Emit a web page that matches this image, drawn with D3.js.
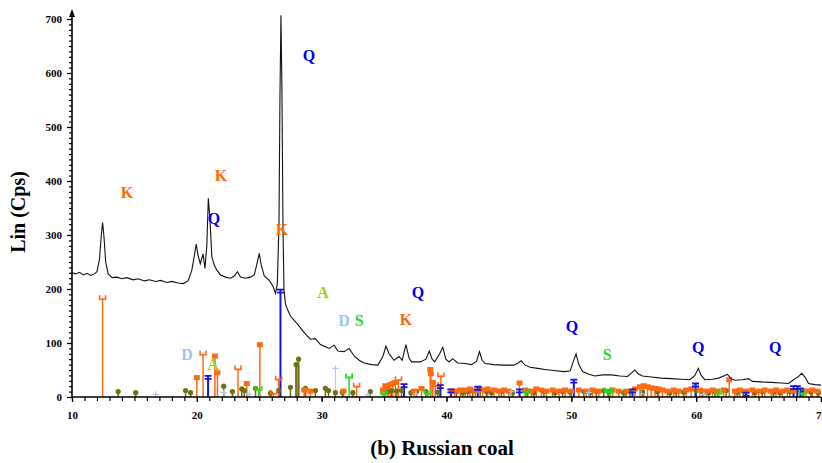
<!DOCTYPE html>
<meta charset="utf-8">
<script src="https://cdn.jsdelivr.net/npm/d3@7"></script>
<style>
  body { margin: 0; background: #fff; }
  text { font-family: "Liberation Serif", "Times New Roman", serif; font-weight: bold; }
</style>
<div id="my_dataviz"></div>
<script>
  // diffraction pattern (2theta, counts)
  var twoTheta = [10.0, 10.3, 10.6, 10.9, 11.2, 11.5, 11.8, 12.0, 12.2, 12.35, 12.45, 12.55, 12.7, 12.9, 13.2, 13.6, 14.0, 14.4, 14.9, 15.3, 15.8, 16.2, 16.7, 17.1, 17.6, 18.0, 18.5, 18.9, 19.3, 19.6, 19.8, 19.95, 20.1, 20.28, 20.5, 20.65, 20.8, 20.92, 21.05, 21.2, 21.4, 21.6, 21.9, 22.3, 22.7, 23.0, 23.25, 23.5, 23.9, 24.3, 24.6, 24.8, 25.0, 25.15, 25.4, 25.8, 26.1, 26.3, 26.45, 26.58, 26.66, 26.74, 26.82, 26.9, 26.98, 27.1, 27.3, 27.5, 27.8, 28.0, 28.3, 28.5, 28.8, 29.1, 29.5, 29.9, 30.3, 30.6, 31.0, 31.3, 31.8, 32.2, 32.6, 33.0, 33.4, 34.0, 34.5, 34.9, 35.15, 35.4, 35.8, 36.2, 36.45, 36.75, 37.0, 37.2, 37.9, 38.35, 38.62, 38.85, 39.05, 39.45, 39.7, 39.95, 40.2, 40.5, 40.9, 41.5, 42.0, 42.4, 42.64, 42.85, 43.1, 43.8, 44.5, 45.4, 45.75, 45.98, 46.3, 46.7, 47.3, 47.9, 48.6, 49.4, 49.9, 50.15, 50.38, 50.6, 50.9, 51.4, 51.9, 52.5, 53.2, 53.9, 54.5, 54.85, 55.08, 55.35, 55.7, 56.4, 57.2, 58.0, 58.8, 59.5, 59.9, 60.17, 60.4, 60.7, 61.3, 61.8, 62.2, 62.5, 62.8, 63.1, 63.7, 64.2, 64.5, 65.2, 66.0, 66.8, 67.4, 67.8, 68.0, 68.15, 68.45, 68.75, 69.0, 69.5, 70.0];
  var counts = [230, 228, 231, 226, 229, 225, 228, 232, 255, 300, 323, 300, 250, 228, 221, 222, 219, 221, 217, 219, 215, 217, 214, 216, 212, 214, 211, 210, 215, 235, 262, 283, 262, 247, 265, 238, 280, 368, 330, 260, 244, 235, 226, 222, 220, 224, 232, 222, 220, 222, 226, 245, 266, 245, 224, 216, 205, 192, 210, 320, 560, 707, 560, 320, 200, 172, 160, 150, 142, 137, 128, 122, 114, 107, 108, 97, 93, 90, 96, 85, 84, 90, 76, 68, 63, 60, 59, 75, 94, 80, 68, 75, 68, 97, 72, 65, 65, 70, 85, 70, 65, 80, 92, 70, 65, 71, 63, 62, 60, 66, 84, 68, 62, 60, 59, 59, 63, 67, 59, 55, 53, 51, 49, 47, 48, 65, 80, 60, 47, 42, 39, 41, 41, 39, 38, 45, 50, 43, 39, 37, 35, 34, 33, 32, 40, 53, 40, 32, 33, 35, 39, 42, 34, 31, 32, 34, 29, 28, 27, 26, 25, 32, 35, 37, 44, 36, 25, 23, 22];

  // reference stick patterns: [2theta, height]
  var kaoliniteCup = [[12.45, 183], [20.5, 80], [23.3, 53], [26.15, 8], [26.55, 34], [32.8, 21], [36.15, 33], [39.55, 40], [39.1, 22]];
  var kaoliniteSq = [[20.0, 35], [21.45, 75], [21.65, 44], [24.0, 24], [25.05, 96], [28.6, 12], [29.1, 10], [31.75, 10], [34.9, 12], [35.1, 20], [35.3, 18], [35.5, 22], [35.7, 24], [35.9, 26], [37.4, 10], [38.0, 15], [38.7, 50], [38.75, 42], [38.9, 26], [40.4, 10], [40.65, 10], [41.1, 12], [41.5, 12], [41.9, 14], [42.3, 10], [42.9, 12], [43.3, 14], [43.8, 12], [44.2, 10], [44.6, 12], [45.0, 10], [45.85, 25], [46.3, 12], [46.8, 10], [47.2, 14], [47.6, 12], [48.0, 10], [48.5, 12], [49.0, 10], [49.5, 12], [50.0, 10], [50.6, 12], [51.2, 10], [51.7, 12], [52.2, 10], [53.3, 12], [53.8, 10], [54.4, 10], [55.1, 14], [55.5, 18], [55.8, 20], [56.1, 18], [56.4, 16], [56.7, 15], [57.0, 14], [57.3, 12], [57.7, 10], [58.2, 12], [58.6, 10], [59.2, 12], [59.6, 14], [60.3, 12], [60.8, 10], [61.3, 12], [61.7, 10], [62.2, 12], [62.65, 31], [63.1, 10], [63.5, 12], [64.0, 10], [64.5, 12], [65.0, 10], [65.5, 12], [66.0, 10], [66.4, 12], [66.9, 10], [67.3, 12], [67.8, 10], [68.8, 10], [69.3, 12], [69.7, 10]];
  var quartz = [[20.9, 39], [26.7, 199], [36.6, 24], [39.5, 22], [40.35, 14], [42.5, 19], [45.85, 14], [50.2, 32], [54.9, 14], [59.95, 25], [64.0, 8], [67.8, 20], [68.1, 20], [68.35, 16]];
  var olive = [[13.7, 10], [15.1, 8], [19.1, 12], [19.5, 8], [22.15, 20], [22.85, 10], [23.6, 15], [23.8, 12], [24.7, 16], [25.9, 7], [26.55, 12], [27.5, 18], [27.95, 60], [28.15, 70], [28.7, 16], [29.5, 12], [30.3, 16], [30.55, 12], [31.1, 8], [31.65, 9], [32.5, 8], [33.9, 10], [35.3, 10], [35.6, 12], [36.0, 11], [36.4, 12], [37.15, 8], [37.6, 10], [38.35, 10], [39.3, 9], [40.8, 10], [41.3, 8], [41.7, 10], [42.1, 12], [42.7, 16], [43.2, 10], [43.6, 8], [44.4, 10], [45.3, 8], [46.5, 10], [47.0, 8], [47.8, 10], [48.7, 8], [49.3, 10], [49.9, 9], [51.0, 10], [51.5, 8], [52.0, 10], [52.6, 12], [53.0, 10], [54.2, 8], [54.7, 10], [55.7, 9], [56.9, 10], [57.9, 8], [58.4, 10], [59.0, 9], [60.0, 12], [60.5, 10], [61.0, 8], [61.5, 10], [62.4, 12], [63.3, 9], [63.8, 10], [64.7, 8], [65.3, 10], [66.2, 9], [66.7, 8], [67.5, 10], [68.6, 12], [69.2, 9], [69.8, 8]];
  var sulfur = [[24.95, 15], [32.2, 38], [35.0, 7], [38.5, 8], [46.4, 10], [52.9, 12], [53.1, 10], [61.8, 8], [68.5, 8]];
  var dolomite = [[16.7, 5], [22.15, 8], [24.2, 5], [31.1, 53], [33.7, 4], [37.55, 6], [45.2, 10], [51.4, 8], [55.6, 6], [60.6, 5]];

  // peak labels: [letter, 2theta, counts]
  var labelsK = [[14.41, 378], [21.94, 411], [26.83, 311], [36.76, 143]];
  var labelsQ = [[21.38, 331], [28.99, 633], [37.72, 194], [50.06, 130], [60.16, 91], [66.33, 91]];
  var labelsA = [[30.11, 194], [21.3, 61]];
  var labelsD = [[19.21, 78], [31.8, 141]];
  var labelsS = [[33.0, 141], [52.87, 78]];

  var xTicks = [10, 20, 30, 40, 50, 60, 70];
  var yTicks = [0, 100, 200, 300, 400, 500, 600, 700];

  var W = 822, H = 463;
  var svg = d3.select("#my_dataviz").append("svg")
    .attr("width", W).attr("height", H);

  var x = d3.scaleLinear().domain([10, 70]).range([72, 821]);
  var y = d3.scaleLinear().domain([0, 700]).range([397, 19]);

  var orange = "#ff6a10", blue = "#1515f0", oliveC = "#6f6f16", green = "#22dd22", light = "#a9c6ff";

  // sticks
  function sticks(data, color, width) {
    svg.append("g").selectAll("line").data(data).enter().append("line")
      .attr("x1", function (d) { return x(d[0]); })
      .attr("x2", function (d) { return x(d[0]); })
      .attr("y1", y(0)).attr("y2", function (d) { return y(d[1]); })
      .attr("stroke", color).attr("stroke-width", width || 1.5);
  }
  sticks(dolomite, light, 1);
  sticks(olive, oliveC, 1.5);
  sticks(kaoliniteSq, orange, 1.5);
  sticks(kaoliniteCup, orange, 1.5);
  sticks(sulfur, green, 1.5);
  sticks(quartz, blue, 2);

  // markers
  svg.append("g").selectAll("circle").data(olive).enter().append("circle")
    .attr("cx", function (d) { return x(d[0]); })
    .attr("cy", function (d) { return y(d[1]); })
    .attr("r", 2.6).attr("fill", oliveC);
  svg.append("rect")
    .attr("x", x(27.95) - 1).attr("y", y(60))
    .attr("width", x(28.15) - x(27.95) + 2).attr("height", y(0) - y(60))
    .attr("fill", oliveC).attr("opacity", 0.7);

  svg.append("g").selectAll("rect").data(kaoliniteSq).enter().append("rect")
    .attr("x", function (d) { return x(d[0]) - 3; })
    .attr("y", function (d) { return y(d[1]) - 3; })
    .attr("width", 6).attr("height", 5).attr("fill", orange);
  svg.append("g").selectAll("path").data(kaoliniteCup).enter().append("path")
    .attr("d", function (d) {
      var cx = x(d[0]), cy = y(d[1]);
      return "M" + (cx - 3) + "," + (cy - 3) + "V" + (cy + 1) + "H" + (cx + 3) + "V" + (cy - 3);
    })
    .attr("fill", "none").attr("stroke", orange).attr("stroke-width", 1.6);

  svg.append("g").selectAll("path").data(quartz).enter().append("path")
    .attr("d", function (d) {
      var cx = x(d[0]), cy = y(d[1]);
      return "M" + (cx - 3.5) + "," + cy + "H" + (cx + 3.5) + "M" + (cx - 3.5) + "," + (cy + 3) + "H" + (cx + 3.5);
    })
    .attr("stroke", blue).attr("stroke-width", 1.8);

  svg.append("g").selectAll("path").data(sulfur).enter().append("path")
    .attr("d", function (d) {
      var cx = x(d[0]), cy = y(d[1]);
      return "M" + (cx - 3) + "," + (cy - 3) + "V" + (cy + 1) + "H" + (cx + 3) + "V" + (cy - 3);
    })
    .attr("fill", "none").attr("stroke", green).attr("stroke-width", 1.8);

  svg.append("g").selectAll("path").data(dolomite).enter().append("path")
    .attr("d", function (d) {
      var cx = x(d[0]), cy = y(d[1]);
      return "M" + (cx - 3) + "," + cy + "H" + (cx + 3) + "M" + cx + "," + (cy - 3) + "V" + (cy + 3);
    })
    .attr("stroke", light).attr("stroke-width", 1.2);

  // pattern line
  var pts = twoTheta.map(function (t, i) { return [t, counts[i]]; });
  svg.append("path")
    .datum(pts)
    .attr("fill", "none")
    .attr("stroke", "#111")
    .attr("stroke-width", 1.1)
    .attr("d", d3.line()
      .x(function (d) { return x(d[0]); })
      .y(function (d) { return y(d[1]); }));

  // axes
  var xMinor = svg.append("g").attr("transform", "translate(0," + y(0) + ")")
    .call(d3.axisBottom(x).tickValues(d3.range(10, 71, 1)).tickSize(4).tickFormat(""));
  xMinor.select(".domain").remove();
  var xAxis = svg.append("g").attr("transform", "translate(0," + y(0) + ")")
    .call(d3.axisBottom(x).tickValues(xTicks).tickSize(5).tickPadding(9).tickFormat(d3.format("d")));
  xAxis.select(".domain").remove();
  xAxis.selectAll("text").attr("font-size", 11).attr("font-family", "Liberation Serif, serif").attr("font-weight", "bold");

  var yMinor = svg.append("g").attr("transform", "translate(72,0)")
    .call(d3.axisLeft(y).tickValues(d3.range(0, 701, 10)).tickSize(3).tickFormat(""));
  yMinor.select(".domain").remove();
  var yAxis = svg.append("g").attr("transform", "translate(72,0)")
    .call(d3.axisLeft(y).tickValues(yTicks).tickSize(5).tickPadding(5).tickFormat(d3.format("d")));
  yAxis.select(".domain").remove();
  yAxis.selectAll("text").attr("font-size", 11).attr("font-family", "Liberation Serif, serif").attr("font-weight", "bold");
  svg.selectAll(".tick line").attr("stroke-width", 1.2);

  svg.append("line").attr("x1", 72).attr("x2", 821).attr("y1", y(0)).attr("y2", y(0))
    .attr("stroke", "#000").attr("stroke-width", 1.6);
  svg.append("line").attr("x1", 72).attr("x2", 72).attr("y1", y(0)).attr("y2", 11)
    .attr("stroke", "#000").attr("stroke-width", 1.6);
  svg.append("path").attr("d", "M69,17L72,9L75,17Z").attr("fill", "#000");

  // peak labels
  function labels(data, letter, color) {
    svg.append("g").selectAll("text").data(data).enter().append("text")
      .attr("x", function (d) { return x(d[0]); })
      .attr("y", function (d) { return y(d[1]); })
      .attr("dy", "0.35em")
      .attr("text-anchor", "middle")
      .attr("font-size", 16)
      .attr("fill", color)
      .text(letter);
  }
  labels(labelsK, "K", "#ff6a00");
  labels(labelsQ, "Q", "#0000ee");
  labels(labelsA, "A", "#9acd10");
  labels(labelsD, "D", "#99c4ff");
  labels(labelsS, "S", "#22dd22");

  // titles
  svg.append("text")
    .attr("transform", "translate(25,212) rotate(-90)")
    .attr("text-anchor", "middle")
    .attr("font-size", 20)
    .text("Lin (Cps)");
  svg.append("text")
    .attr("x", 442).attr("y", 455)
    .attr("text-anchor", "middle")
    .attr("font-size", 21)
    .text("(b) Russian coal");
</script>
